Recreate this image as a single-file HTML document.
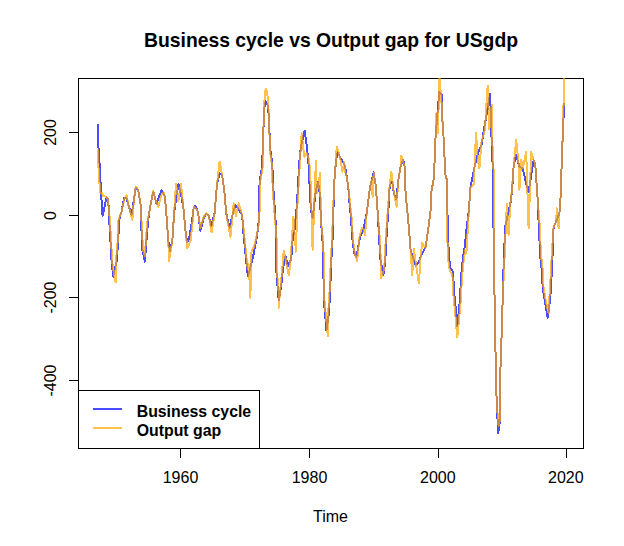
<!DOCTYPE html>
<html><head><meta charset="utf-8"><style>
html,body{margin:0;padding:0;background:#fff;width:624px;height:546px;overflow:hidden}
svg{display:block}
text{font-family:"Liberation Sans",sans-serif;fill:#000}
</style></head><body>
<svg width="624" height="546" viewBox="0 0 624 546">
<defs><clipPath id="c"><rect x="78" y="78" width="506" height="371"/></clipPath></defs>
<g stroke="#000" stroke-width="1" fill="none" shape-rendering="crispEdges">
<rect x="78.5" y="78.5" width="505" height="370"/>
<path d="M180.5 448V458M309.5 448V458M438.5 448V458M566.5 448V458"/>
<path d="M69 132.5H78M69 215.5H78M69 297.5H78M69 380.5H78"/>
</g>
<g clip-path="url(#c)" fill="none" stroke-width="2" stroke-linejoin="round" stroke-linecap="butt" shape-rendering="crispEdges">
<polyline points="97.70,124.30 98.30,145.00 100.10,172.00 101.00,193.00 102.60,215.80 104.90,205.00 106.60,197.50 108.20,199.20 109.10,217.50 110.70,245.00 111.60,261.70 113.20,276.70 114.90,268.00 116.60,261.70 118.20,241.70 119.10,220.00 121.60,211.70 124.10,197.50 126.40,198.00 128.20,204.20 131.60,215.00 133.90,200.00 135.70,187.50 138.20,190.00 140.70,205.00 141.60,233.30 142.40,250.00 144.90,261.70 146.60,238.30 148.20,220.00 149.10,213.30 151.60,199.20 153.40,192.00 156.60,204.20 158.90,197.00 161.60,190.00 164.90,196.70 166.60,216.70 168.20,240.00 169.90,250.80 172.40,240.00 174.10,213.30 176.40,196.00 178.50,184.40 180.90,194.00 183.20,206.00 185.70,233.30 187.40,242.50 189.10,238.00 191.20,226.70 193.70,208.00 195.40,205.80 197.90,211.70 200.40,230.80 203.70,218.00 206.20,214.00 208.70,215.80 211.20,225.80 214.60,213.30 217.10,183.30 219.60,173.30 222.10,175.00 224.60,193.30 226.20,213.30 229.60,227.50 232.90,213.30 235.40,205.00 237.90,208.00 242.10,215.00 243.70,236.00 245.40,252.70 247.10,269.30 247.90,276.00 250.40,267.70 252.90,257.70 255.40,244.30 257.10,236.00 258.70,221.70 259.60,181.70 262.10,166.70 263.60,125.00 264.00,110.00 265.60,101.30 268.20,106.70 268.90,120.80 270.40,150.00 272.10,161.70 273.70,195.00 275.40,216.70 276.20,241.00 276.20,269.30 277.90,291.00 278.70,300.20 281.20,286.00 282.90,269.30 285.40,256.00 287.90,266.00 291.20,259.30 292.90,236.00 294.20,233.30 296.70,206.70 297.60,193.30 299.20,163.30 300.90,146.70 304.60,130.80 306.70,145.00 308.40,161.70 310.10,195.00 310.90,210.00 312.60,218.00 314.20,205.00 315.90,190.00 318.10,181.70 319.90,195.00 320.90,220.00 322.60,241.70 323.40,266.70 323.70,298.80 325.10,313.90 326.40,330.40 328.50,316.60 329.90,297.40 330.60,278.20 330.90,266.70 332.60,238.30 333.40,211.00 334.20,183.30 335.90,161.70 337.60,152.50 341.70,160.00 345.10,166.00 346.70,176.70 348.40,188.30 349.20,200.00 350.90,216.70 352.60,241.70 354.20,253.30 356.40,256.70 360.10,236.70 363.40,230.00 366.70,213.30 368.40,200.00 370.10,186.70 371.70,180.00 373.70,172.50 375.90,186.70 377.60,211.00 379.20,238.30 380.10,258.30 383.40,275.00 385.10,263.30 386.70,233.30 388.40,210.00 389.70,185.00 392.20,181.70 393.90,193.30 396.40,199.20 398.10,181.70 400.60,166.70 403.10,159.70 404.70,166.70 405.60,193.30 407.20,210.00 408.90,228.30 410.60,250.00 413.90,260.00 415.60,265.00 418.90,262.00 420.60,256.70 425.60,246.70 428.10,230.00 430.60,210.00 431.40,191.70 433.90,178.00 435.60,136.30 437.70,111.00 438.60,100.00 438.90,92.00 440.40,93.00 442.50,96.00 442.40,110.00 442.30,118.00 443.00,130.00 443.90,141.30 444.70,161.30 445.60,176.70 447.20,180.00 447.20,203.30 448.10,236.70 448.90,256.70 450.60,268.30 453.10,271.70 453.90,290.00 455.60,306.70 457.30,326.40 459.70,301.70 461.40,273.30 463.10,256.70 464.70,246.70 466.40,230.00 468.90,210.00 470.40,188.00 472.70,176.30 474.90,165.20 478.30,151.70 481.60,145.00 483.90,129.40 487.20,111.50 490.10,93.60 492.10,154.70 492.90,169.00 493.60,236.00 494.40,289.30 495.20,327.00 495.90,381.80 497.00,407.00 498.10,433.30 500.40,418.40 500.40,370.30 501.60,336.00 502.70,299.30 503.60,266.00 505.20,226.70 511.10,200.00 512.70,181.70 513.60,166.70 515.20,158.30 516.10,155.00 519.40,166.70 522.70,168.30 526.10,183.30 528.60,191.70 533.60,160.00 535.20,163.30 537.70,200.00 538.60,221.70 540.20,256.00 541.90,271.00 542.70,287.70 545.20,302.70 547.70,317.70 550.20,299.30 551.10,284.30 551.90,269.30 552.70,252.70 553.60,226.70 556.10,221.70 559.40,213.30 561.10,190.00 561.90,150.00 562.90,136.30 563.00,122.00 564.00,114.00 564.00,103.00" stroke="rgba(0,0,255,0.7)"/>
<polyline points="97.60,149.50 98.30,165.00 100.10,192.50 102.00,193.30 103.20,196.00 105.70,196.70 107.80,198.30 109.70,217.50 111.30,245.00 112.20,261.70 113.40,270.00 115.70,282.50 116.00,261.70 117.60,241.70 118.50,220.00 121.60,211.70 124.10,200.00 126.60,195.00 128.20,204.20 132.40,220.00 133.90,200.00 135.70,186.70 138.20,190.00 140.70,205.00 142.20,233.30 143.00,250.00 144.90,255.80 146.00,238.30 147.60,220.00 149.10,213.30 151.60,199.20 153.20,190.80 155.40,200.00 158.20,206.70 161.40,195.00 163.40,192.00 164.90,196.70 166.60,216.70 168.20,240.00 169.10,260.80 172.40,240.00 174.10,213.30 176.00,183.50 178.30,201.00 181.00,183.50 183.20,206.00 185.70,233.30 187.40,248.30 190.70,240.00 192.40,223.30 193.70,206.70 195.40,208.00 197.90,211.70 200.40,228.00 203.70,216.70 206.20,213.30 208.70,215.80 211.70,232.50 214.60,213.30 217.10,183.30 219.60,161.70 222.10,175.00 224.60,193.30 226.20,213.30 230.40,236.70 233.70,203.30 235.90,216.00 238.70,203.30 242.10,215.00 244.30,236.00 246.00,252.70 247.70,269.30 248.70,264.30 250.40,297.70 251.20,252.70 254.80,244.30 256.50,236.00 259.30,221.70 260.20,181.70 262.70,166.70 263.80,112.00 265.00,92.00 266.00,89.20 267.20,92.00 269.20,118.00 269.80,150.00 271.50,161.70 273.10,195.00 274.80,216.70 276.80,241.00 276.80,269.30 278.50,291.00 278.70,307.70 280.60,286.00 282.30,269.30 283.70,251.00 285.40,258.00 288.70,275.20 290.10,266.70 291.70,243.30 293.40,216.70 295.90,251.70 297.30,206.70 298.20,193.30 299.80,163.30 301.70,133.30 302.60,141.70 304.20,156.70 306.70,153.30 309.20,160.00 310.90,186.70 312.60,250.00 314.20,206.70 315.90,160.80 316.70,193.30 320.10,173.30 320.90,220.00 323.20,241.70 324.00,266.70 324.30,298.80 325.70,313.90 327.80,335.80 327.90,316.60 329.30,297.40 330.00,278.20 332.00,238.30 334.20,183.30 335.90,161.70 336.70,146.70 338.90,153.00 340.90,162.00 342.40,172.00 344.15,162.00 345.60,174.00 346.70,176.70 348.40,188.30 351.50,216.70 353.20,241.70 354.80,253.30 357.20,260.80 359.50,236.70 361.90,228.00 363.40,230.00 365.10,235.00 366.70,213.30 368.40,200.00 370.10,186.70 371.70,180.00 372.60,196.70 373.70,172.50 375.90,186.70 377.60,211.00 379.80,238.30 380.70,258.30 380.90,278.30 383.40,272.00 384.50,263.30 386.10,233.30 387.80,210.00 389.70,185.00 391.40,171.70 393.90,193.30 396.70,206.70 398.10,181.70 400.60,166.70 401.40,155.50 404.70,166.70 405.60,193.30 407.20,210.00 408.90,228.30 410.60,250.00 412.20,275.00 413.90,249.20 415.60,262.00 418.90,283.30 420.60,256.70 422.20,243.30 425.60,248.00 428.10,230.00 430.60,210.00 431.40,191.70 433.90,178.00 435.60,136.30 436.40,113.00 438.10,133.00 439.40,60.00 440.60,92.00 441.90,107.00 442.30,118.00 443.00,130.00 443.90,141.30 444.70,161.30 445.60,176.70 447.20,180.00 447.20,203.30 447.40,239.70 448.20,259.70 449.90,271.30 452.40,274.70 453.20,293.00 454.90,309.70 457.30,337.50 460.40,304.70 462.10,276.30 463.80,259.70 465.40,249.70 466.40,253.30 468.90,210.00 470.40,187.50 473.80,184.10 476.00,132.70 477.90,160.00 479.40,168.50 481.60,140.60 483.60,135.00 485.00,129.40 486.10,109.30 487.70,85.80 489.40,129.40 491.70,104.80 492.70,154.70 493.50,169.00 493.60,236.00 494.40,289.30 495.20,327.00 495.90,381.80 497.00,407.00 498.60,426.00 500.40,418.40 500.40,370.30 501.60,336.00 502.70,299.30 504.20,266.00 505.80,226.70 506.90,204.20 508.60,235.00 510.20,205.00 511.90,190.00 513.60,166.70 516.20,139.70 518.70,164.70 519.40,190.00 521.20,159.70 522.90,168.00 526.20,152.20 528.60,228.30 531.20,152.20 533.60,160.00 535.20,163.30 537.70,200.00 539.40,220.70 541.00,255.00 542.70,270.00 543.50,286.70 546.00,301.70 548.60,313.50 549.40,298.30 550.30,283.30 551.10,268.30 551.90,251.70 553.60,226.70 556.10,221.70 556.90,208.30 558.60,228.30 559.40,213.30 561.10,190.00 561.90,150.00 562.90,136.30 563.00,122.00 563.00,108.00 564.00,103.00 564.00,60.00" stroke="rgba(255,165,0,0.7)"/>
</g>
<rect x="78.5" y="390.5" width="181" height="58" fill="#fff" stroke="#000" stroke-width="1" shape-rendering="crispEdges"/>
<g stroke-width="2">
<path d="M93 409H122" stroke="rgba(0,0,255,0.7)"/>
<path d="M93 428H122" stroke="rgba(255,165,0,0.7)"/>
</g>
<text x="331" y="47" font-size="19.35" font-weight="bold" text-anchor="middle">Business cycle vs Output gap for USgdp</text>
<g font-size="16" text-anchor="middle">
<text x="180.5" y="483">1960</text>
<text x="309.5" y="483">1980</text>
<text x="437.8" y="483">2000</text>
<text x="565.8" y="483">2020</text>
<text x="330.5" y="522">Time</text>
<text transform="translate(56,132.5) rotate(-90)">200</text>
<text transform="translate(56,215.5) rotate(-90)">0</text>
<text transform="translate(56,297.5) rotate(-90)">-200</text>
<text transform="translate(56,380.5) rotate(-90)">-400</text>
</g>
<g font-size="15.85" font-weight="bold">
<text x="136.7" y="416.5">Business cycle</text>
<text x="136.7" y="435.5">Output gap</text>
</g>
</svg>
</body></html>
